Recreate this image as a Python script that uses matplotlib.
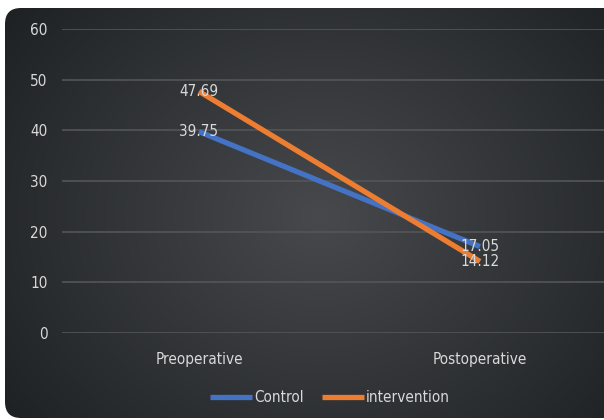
import numpy as np
import matplotlib
matplotlib.use("Agg")
import matplotlib.pyplot as plt
from matplotlib.patches import FancyBboxPatch

categories = ["Preoperative", "Postoperative"]
control = [39.75, 17.05]
intervention = [47.69, 14.12]
yticks = [0, 10, 20, 30, 40, 50, 60]

W, H = 604, 420
fig = plt.figure(figsize=(W / 100, H / 100), dpi=100)
fig.patch.set_facecolor("white")

# background with radial gradient and rounded frame
bg = fig.add_axes([0, 0, 1, 1])
bg.set_xlim(0, W)
bg.set_ylim(H, 0)
bg.axis("off")
yy, xx = np.mgrid[0:H, 0:W]
cx, cy = 320, 215
r = np.sqrt(((xx - cx) / 1.0) ** 2 + ((yy - cy) / 0.85) ** 2)
r = np.clip(r / 400.0, 0, 1)
c_in = np.array([0x47, 0x49, 0x4c]) / 255.0
c_out = np.array([0x1e, 0x21, 0x24]) / 255.0
img = c_in[None, None, :] * (1 - r[..., None]) + c_out[None, None, :] * r[..., None]
im = bg.imshow(img, extent=(0, W, H, 0), aspect="auto", zorder=0)
frame = FancyBboxPatch((5, 8), 620, 410, boxstyle="round,pad=0,rounding_size=16",
                       transform=bg.transData, facecolor="none", edgecolor="none")
bg.add_patch(frame)
im.set_clip_path(frame)

# main axes
L, R = 62, 604
B, T = 333, 29
ax = fig.add_axes([L / W, (H - B) / H, (R - L) / W, (B - T) / H])
ax.patch.set_alpha(0)
x = np.arange(len(categories))
x0, x1 = 199, 480
ax.set_xlim((L - x0) / (x1 - x0), (R - x0) / (x1 - x0))
ax.set_ylim(0, 60)

txt = "#d9d9d9"
fam = "DejaVu Sans"
fs = 11
st = "condensed"
ax.set_yticks(yticks)
ax.set_yticklabels([str(v) for v in yticks], color=txt, fontsize=fs, family=fam, fontstretch=st)
ax.set_xticks(x)
ax.set_xticklabels(categories, color=txt, fontsize=fs, family=fam, fontstretch=st)
ax.tick_params(axis="both", length=0)
ax.tick_params(axis="y", pad=10.5)
ax.tick_params(axis="x", pad=14)
ax.grid(axis="y", color="#535558", linewidth=1.2)
ax.set_axisbelow(True)
for s in ax.spines.values():
    s.set_visible(False)

ax.plot(x, control, color="#4472c4", linewidth=3.8, solid_capstyle="butt", label="Control", zorder=3)
ax.plot(x, intervention, color="#ed7d31", linewidth=3.8, solid_capstyle="butt", label="intervention", zorder=3)

for xi, v in zip(x, control):
    ax.text(xi, v, f"{v:.2f}", color=txt, fontsize=fs, family=fam, fontstretch=st,
            ha="center", va="center", zorder=5)
for xi, v in zip(x, intervention):
    ax.text(xi, v, f"{v:.2f}", color=txt, fontsize=fs, family=fam, fontstretch=st,
            ha="center", va="center", zorder=5)

leg = fig.legend(loc="center", bbox_to_anchor=(330 / W, (H - 398) / H), ncol=2, frameon=False,
                 handlelength=2.75, handletextpad=0.1, columnspacing=1.2,
                 prop={"family": fam, "size": fs, "stretch": st})
for t in leg.get_texts():
    t.set_color(txt)

fig.savefig("out.png", dpi=100, facecolor="white")
